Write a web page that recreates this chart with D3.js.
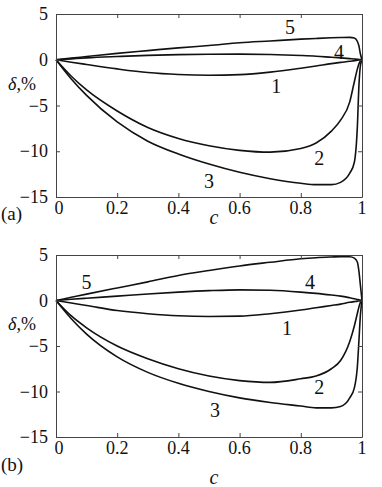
<!DOCTYPE html>
<html>
<head>
<meta charset="utf-8">
<script src="https://cdn.jsdelivr.net/npm/d3@7"></script>
<style>
    body { margin: 0; background: #fff; }
    svg text { font-family: "Liberation Serif", "Times New Roman", Times, serif; fill: #111; }
</style>
</head>
<body>
<div id="chart"></div>
<script>
// concentration grid (same for every curve)
const cGrid = [0, 0.05, 0.1, 0.2, 0.3, 0.4, 0.5, 0.6, 0.7, 0.8, 0.85, 0.9, 0.93, 0.96, 0.975, 0.985, 0.99, 0.995, 1];

// panel (a) deviations, %
const curve1a = [0, -0.27, -0.52, -1.0, -1.4, -1.62, -1.7, -1.63, -1.35, -0.92, -0.68, -0.42, -0.29, -0.17, -0.1, -0.06, -0.04, -0.02, 0];
const curve2a = [0, -1.8, -3.3, -5.6, -7.4, -8.6, -9.4, -9.9, -10.1, -9.7, -9.1, -7.8, -6.6, -4.6, -2.4, -1.0, -0.45, -0.1, 0];
const curve3a = [0, -2.1, -3.9, -6.8, -8.9, -10.3, -11.4, -12.3, -13.0, -13.5, -13.65, -13.65, -13.4, -12.4, -11.2, -7.2, -2.8, -0.6, 0];
const curve4a = [0, 0.1, 0.2, 0.35, 0.48, 0.56, 0.6, 0.62, 0.58, 0.47, 0.39, 0.27, 0.2, 0.12, 0.08, 0.05, 0.03, 0.01, 0];
const curve5a = [0, 0.18, 0.35, 0.7, 1.0, 1.3, 1.55, 1.85, 2.05, 2.25, 2.33, 2.4, 2.43, 2.45, 2.38, 2.0, 1.5, 0.6, 0];

// panel (b) deviations, %
const curve1b = [0, -0.28, -0.55, -1.1, -1.45, -1.68, -1.75, -1.72, -1.45, -1.05, -0.8, -0.55, -0.4, -0.2, -0.12, -0.07, -0.05, -0.02, 0];
const curve2b = [0, -1.7, -3.0, -5.0, -6.4, -7.5, -8.3, -8.8, -9.0, -8.6, -8.3, -7.5, -6.6, -4.5, -2.8, -1.4, -0.7, -0.2, 0];
const curve3b = [0, -2.0, -3.7, -6.2, -7.9, -9.1, -10.0, -10.7, -11.2, -11.6, -11.8, -11.8, -11.65, -10.7, -9.6, -7.2, -4.4, -1.5, 0];
const curve4b = [0, 0.13, 0.25, 0.48, 0.72, 0.92, 1.08, 1.17, 1.12, 0.92, 0.78, 0.6, 0.48, 0.3, 0.2, 0.12, 0.08, 0.04, 0];
const curve5b = [0, 0.35, 0.7, 1.38, 2.05, 2.75, 3.3, 3.8, 4.2, 4.58, 4.7, 4.78, 4.82, 4.8, 4.65, 4.2, 3.2, 1.6, 0];

// axis ticks
const xTicks = [0, 0.2, 0.4, 0.6, 0.8, 1];
const xTickLabels = ["0", "0.2", "0.4", "0.6", "0.8", "1"];
const yTicks = [5, 0, -5, -10, -15];
const yTickLabels = ["5", "0", "\u22125", "\u221210", "\u221215"];

// curve labels: number, c, delta (position in data units)
const labelsA = [["1", 0.72, -2.9], ["2", 0.86, -10.7], ["3", 0.5, -13.3], ["4", 0.925, 0.9], ["5", 0.765, 3.6]];
const labelsB = [["1", 0.755, -3.0], ["2", 0.86, -9.5], ["3", 0.52, -12.0], ["4", 0.83, 2.0], ["5", 0.1, 2.0]];

const W = 382, H = 487;
const svg = d3.select("#chart").append("svg").attr("width", W).attr("height", H);

function makePanel(top, bottom, series, labels, tag, tagY, cY) {
    const x = d3.scaleLinear().domain([0, 1]).range([56, 362]);
    const y = d3.scaleLinear().domain([-15, 5]).range([bottom, top]);
    const g = svg.append("g");

    // Draw the curves
    const line = d3.line()
        .x((d) => x(d[0]))
        .y((d) => y(d[1]))
        .curve(d3.curveMonotoneX);

    series.forEach((vals) => {
        g.append("path")
            .datum(cGrid.map((c, i) => [c, vals[i]]))
            .attr("fill", "none")
            .attr("stroke", "#111")
            .attr("stroke-width", 1.6)
            .attr("d", line);
    });

    // Axes, ticks inward on all sides
    const tk = 4;
    g.append("g").attr("transform", `translate(0,${bottom})`)
        .call(d3.axisBottom(x).tickValues(xTicks).tickSizeInner(-tk).tickSizeOuter(0).tickFormat(""));
    g.append("g").attr("transform", `translate(0,${top})`)
        .call(d3.axisTop(x).tickValues(xTicks).tickSizeInner(-tk).tickSizeOuter(0).tickFormat(""));
    g.append("g").attr("transform", "translate(56,0)")
        .call(d3.axisLeft(y).tickValues(yTicks).tickSizeInner(-tk).tickSizeOuter(0).tickFormat(""));
    g.append("g").attr("transform", "translate(362,0)")
        .call(d3.axisRight(y).tickValues(yTicks).tickSizeInner(-tk).tickSizeOuter(0).tickFormat(""));
    g.selectAll(".domain, .tick line").attr("stroke", "#444").attr("stroke-width", 1);

    // Tick labels
    g.selectAll(".xl")
        .data(xTicks)
        .enter()
        .append("text")
        .attr("x", (d) => x(d) + (d === 0 ? 3 : 0))
        .attr("y", bottom + 17)
        .attr("text-anchor", "middle")
        .attr("font-size", 18)
        .text((d, i) => xTickLabels[i]);

    g.selectAll(".yl")
        .data(yTicks)
        .enter()
        .append("text")
        .attr("x", 48)
        .attr("y", (d) => y(d) + 6)
        .attr("text-anchor", "end")
        .attr("font-size", 18)
        .text((d, i) => yTickLabels[i]);

    // Curve numbers
    g.selectAll(".cl")
        .data(labels)
        .enter()
        .append("text")
        .attr("x", (d) => x(d[1]))
        .attr("y", (d) => y(d[2]) + 7)
        .attr("text-anchor", "middle")
        .attr("font-size", 20)
        .text((d) => d[0]);

    // Axis titles
    const yt = g.append("text")
        .attr("x", 8)
        .attr("y", y(-2.6) + 6)
        .attr("font-size", 18);
    yt.append("tspan").attr("font-style", "italic").text("\u03b4");
    yt.append("tspan").text(",%");

    g.append("text")
        .attr("x", 214)
        .attr("y", cY)
        .attr("text-anchor", "middle")
        .attr("font-size", 20)
        .attr("font-style", "italic")
        .text("c");

    g.append("text")
        .attr("x", 1)
        .attr("y", tagY)
        .attr("font-size", 19)
        .text(tag);
}

makePanel(14, 197, [curve1a, curve2a, curve3a, curve4a, curve5a], labelsA, "(a)", 220, 224);
makePanel(255, 437, [curve1b, curve2b, curve3b, curve4b, curve5b], labelsB, "(b)", 471, 484);
</script>
</body>
</html>
